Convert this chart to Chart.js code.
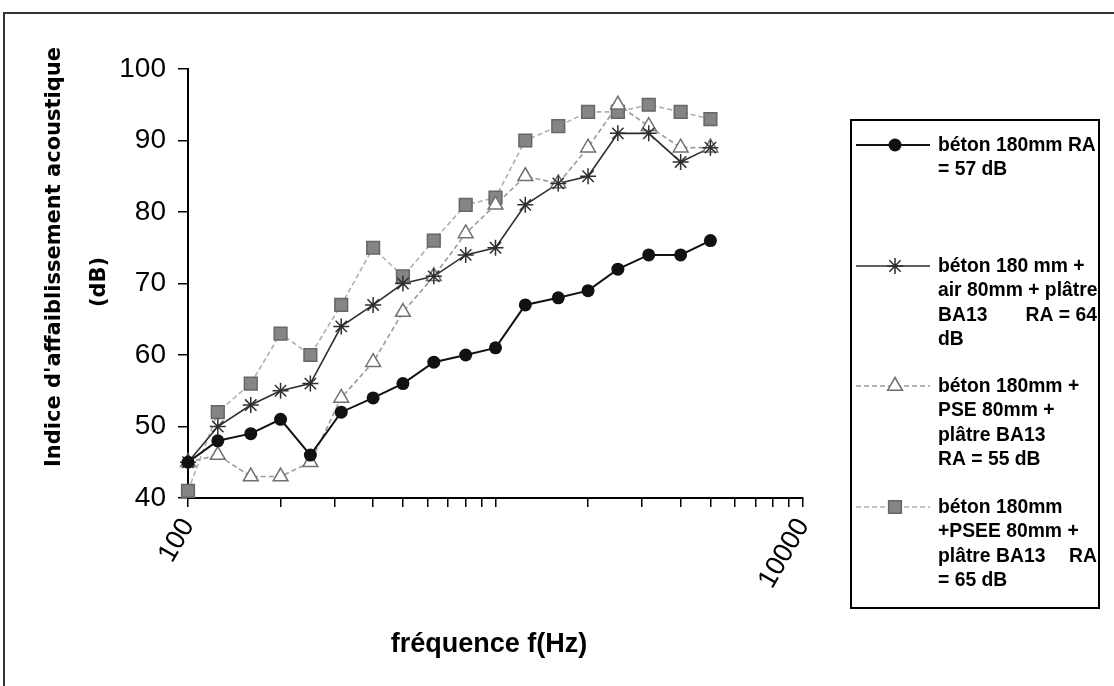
<!DOCTYPE html>
<html>
<head>
<meta charset="utf-8">
<title>Indice d'affaiblissement acoustique</title>
<script src="https://cdn.jsdelivr.net/npm/chart.js"></script>
<style>
  html, body { margin: 0; padding: 0; background: #fff; }
  canvas { display: block; }
</style>
</head>
<body>
<canvas id="chart" width="1114" height="686"></canvas>
<script>
// third-octave bands (Hz)
const freqs = [100, 125, 160, 200, 250, 315, 400, 500, 630, 800, 1000, 1250, 1600, 2000, 2500, 3150, 4000, 5000]

// R (dB)
const beton = [45, 48, 49, 51, 46, 52, 54, 56, 59, 60, 61, 67, 68, 69, 72, 74, 74, 76]
const betonAir = [45, 50, 53, 55, 56, 64, 67, 70, 71, 74, 75, 81, 84, 85, 91, 91, 87, 89]
const betonPSE = [45, 46, 43, 43, 45, 54, 59, 66, 71, 77, 81, 85, 84, 89, 95, 92, 89, 89]
const betonPSEE = [41, 52, 56, 63, 60, 67, 75, 71, 76, 81, 82, 90, 92, 94, 94, 95, 94, 93]

// x ticks: log minor ticks, only decades labelled
const xTicks = [100, 200, 300, 400, 500, 600, 700, 800, 900, 1000, 2000, 3000, 4000, 5000, 6000, 7000, 8000, 9000, 10000]
const xLabels = [100, 10000]

const legendLines = [
  ['béton 180mm RA', '= 57 dB'],
  ['béton 180 mm +', 'air 80mm + plâtre', ['BA13', 'RA = 64'], 'dB'],
  ['béton 180mm +', 'PSE 80mm +', 'plâtre BA13', 'RA = 55 dB'],
  ['béton 180mm', '+PSEE 80mm +', ['plâtre BA13', 'RA'], '= 65 dB']
]

const pts = (ys) => freqs.map((f, i) => ({ x: f, y: ys[i] }))

const styles = [
  { color: '#111', dash: [], width: 2, marker: 'circle', fill: '#111', stroke: '#111', r: 6.5 },
  { color: '#2e2e2e', dash: [], width: 1.6, marker: 'star', fill: '#2e2e2e', stroke: '#2e2e2e', r: 8 },
  { color: '#9a9a9a', dash: [5, 3], width: 1.6, marker: 'triangle', fill: '#fff', stroke: '#707070', r: 8.5 },
  { color: '#b0b0b0', dash: [5, 3], width: 1.6, marker: 'rect', fill: '#858585', stroke: '#666', r: 9 }
]
const series = [beton, betonAir, betonPSE, betonPSEE]

const drawMarker = (ctx, s, x, y) => {
  ctx.save()
  ctx.setLineDash([])
  ctx.fillStyle = s.fill
  ctx.strokeStyle = s.stroke
  ctx.lineWidth = 1.5
  ctx.beginPath()
  if (s.marker === 'circle') {
    ctx.arc(x, y, s.r, 0, Math.PI * 2)
    ctx.fill()
  } else if (s.marker === 'star') {
    for (let k = 0; k < 4; k++) {
      const a = k * Math.PI / 4
      ctx.moveTo(x - Math.sin(a) * s.r, y - Math.cos(a) * s.r)
      ctx.lineTo(x + Math.sin(a) * s.r, y + Math.cos(a) * s.r)
    }
    ctx.stroke()
  } else if (s.marker === 'triangle') {
    ctx.moveTo(x, y - s.r)
    ctx.lineTo(x + s.r * 0.87, y + s.r * 0.5)
    ctx.lineTo(x - s.r * 0.87, y + s.r * 0.5)
    ctx.closePath()
    ctx.fill()
    ctx.stroke()
  } else {
    const h = s.r * Math.SQRT1_2
    ctx.rect(x - h, y - h, 2 * h, 2 * h)
    ctx.fill()
    ctx.stroke()
  }
  ctx.restore()
}

const textSqueezed = (ctx, str, x, y, sx) => {
  ctx.save()
  ctx.translate(x, y)
  ctx.scale(sx, 1)
  ctx.fillText(str, 0, 0)
  ctx.restore()
}

const decorations = {
  id: 'decorations',
  beforeDraw (chart) {
    const ctx = chart.ctx
    ctx.save()
    ctx.fillStyle = '#fff'
    ctx.fillRect(0, 0, chart.width, chart.height)
    ctx.restore()
  },
  afterDraw (chart) {
    const ctx = chart.ctx
    ctx.save()

    // outer frame (top and left edges visible)
    ctx.strokeStyle = '#333'
    ctx.lineWidth = 2
    ctx.beginPath()
    ctx.moveTo(4, 700)
    ctx.lineTo(4, 13)
    ctx.lineTo(1120, 13)
    ctx.stroke()

    // y title, two lines
    ctx.fillStyle = '#000'
    ctx.textAlign = 'center'
    ctx.textBaseline = 'middle'
    ctx.font = 'bold 21px "DejaVu Sans"'
    ctx.save()
    ctx.translate(55, 257)
    ctx.rotate(-Math.PI / 2)
    ctx.fillText("Indice d'affaiblissement acoustique", 0, 0)
    ctx.restore()
    ctx.save()
    ctx.translate(100, 282)
    ctx.rotate(-Math.PI / 2)
    ctx.fillText('(dB)', 0, 0)
    ctx.restore()

    // x title
    ctx.font = 'bold 27px "Liberation Sans"'
    textSqueezed(ctx, 'fréquence f(Hz)', 489, 645, 1)

    // legend box
    ctx.strokeStyle = '#000'
    ctx.lineWidth = 2
    ctx.strokeRect(851, 120, 248, 488)

    const firstY = [145, 266, 386, 507]
    ctx.textAlign = 'left'
    ctx.font = 'bold 21px "Liberation Sans"'
    legendLines.forEach((lines, i) => {
      const s = styles[i]
      const y0 = firstY[i]
      ctx.save()
      ctx.strokeStyle = s.color
      ctx.lineWidth = s.width
      ctx.setLineDash(s.dash)
      ctx.beginPath()
      ctx.moveTo(856, y0)
      ctx.lineTo(930, y0)
      ctx.stroke()
      ctx.restore()
      drawMarker(ctx, s, 895, y0)
      ctx.fillStyle = '#000'
      lines.forEach((ln, j) => {
        const y = y0 + j * 24.5
        if (Array.isArray(ln)) {
          textSqueezed(ctx, ln[0], 938, y, 0.92)
          ctx.textAlign = 'right'
          textSqueezed(ctx, ln[1], 1097, y, 0.92)
          ctx.textAlign = 'left'
        } else {
          textSqueezed(ctx, ln, 938, y, 0.92)
        }
      })
    })
    ctx.restore()
  }
}

const datasets = series.map((ys, i) => {
  const s = styles[i]
  return {
    label: legendLines[i].flat().join(' '),
    data: pts(ys),
    borderColor: s.color,
    borderWidth: s.width,
    borderDash: s.dash,
    tension: 0,
    pointRadius: 0,
    pointHoverRadius: 0
  }
})

// markers drawn over the lines, same data through the scales
const markerPlugin = {
  id: 'markers',
  afterDatasetsDraw (chart) {
    const ctx = chart.ctx
    const xs = chart.scales.x
    const ysc = chart.scales.y
    for (let i = series.length - 1; i >= 0; i--) {
      series[i].forEach((v, k) => {
        drawMarker(ctx, styles[i], xs.getPixelForValue(freqs[k]), ysc.getPixelForValue(v))
      })
    }
  }
}

new Chart(document.getElementById('chart'), {
  type: 'line',
  data: { datasets },
  plugins: [decorations, markerPlugin],
  options: {
    responsive: false,
    animation: false,
    events: [],
    layout: { padding: { left: 0, top: 69, right: 311, bottom: 0 } },
    plugins: {
      legend: { display: false },
      tooltip: { enabled: false }
    },
    scales: {
      x: {
        type: 'logarithmic',
        min: 100,
        max: 10000,
        afterFit: (scale) => { scale.height = 188 },
        afterBuildTicks: (scale) => { scale.ticks = xTicks.map(v => ({ value: v })) },
        border: { color: '#000', width: 2 },
        grid: { drawOnChartArea: false, color: '#000', lineWidth: 1.5, tickLength: 9 },
        ticks: {
          autoSkip: false,
          minRotation: 60,
          maxRotation: 60,
          padding: 6,
          color: '#000',
          font: { family: 'Liberation Sans', size: 27 },
          callback: (v) => xLabels.includes(v) ? String(v) : ''
        }
      },
      y: {
        min: 40,
        max: 100,
        afterFit: (scale) => { scale.width = 188 },
        border: { color: '#000', width: 2 },
        grid: { drawOnChartArea: false, color: '#000', lineWidth: 1.5, tickLength: 10 },
        ticks: {
          stepSize: 10,
          padding: 12,
          color: '#000',
          font: { family: 'Liberation Sans', size: 28 }
        }
      }
    }
  }
})
</script>
</body>
</html>
